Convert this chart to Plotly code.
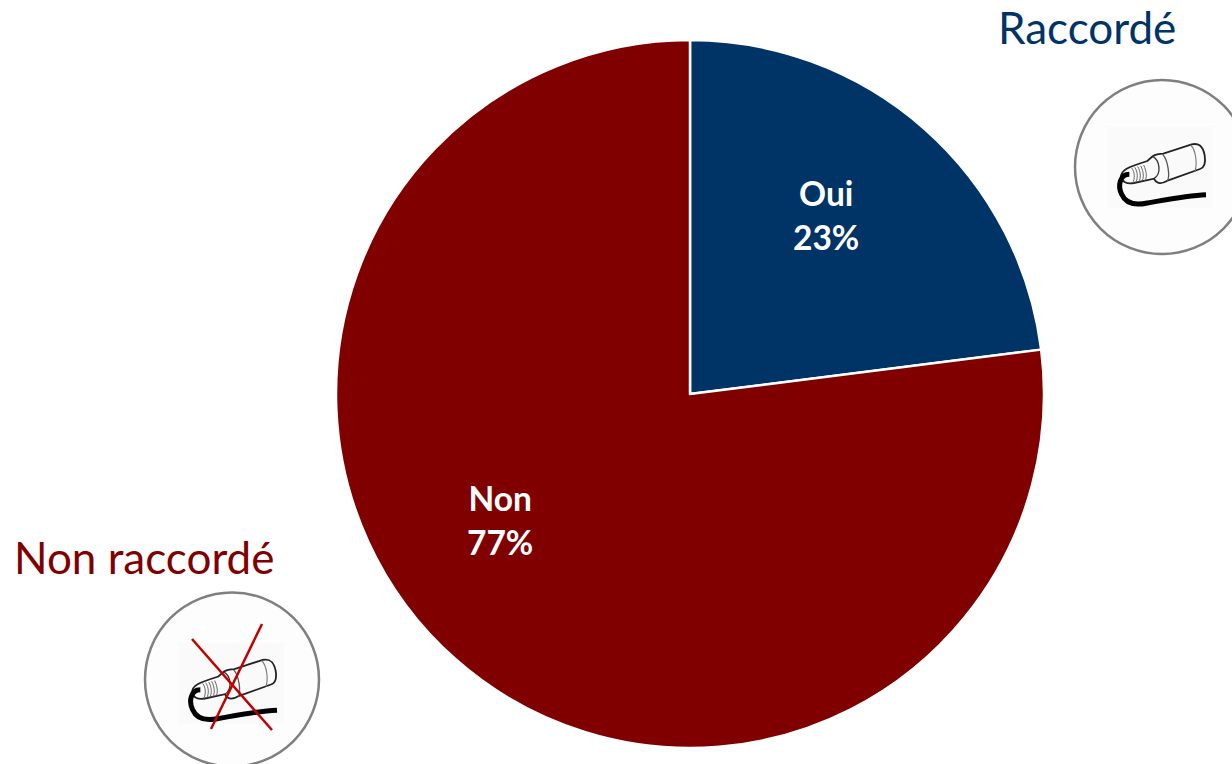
import plotly.graph_objects as go

W, H = 1232, 764
categories = ["Oui", "Non"]
values = [23, 77]
colors = ["#003366", "#800000"]
percent_labels = ["23%", "77%"]
callouts = ["Raccordé", "Non raccordé"]


def X(p):
    return p / W


def Y(p):
    return 1 - p / H


def path(cmds, cx, cy, k=1 / 3, ox=285, oy=290):
    """Turn an icon outline from local drawing units into paper coordinates."""
    out = []
    for c in cmds:
        if isinstance(c, str):
            out.append(c)
        else:
            out.append(f"{X(cx + (c[0] - ox) * k):.5f},{Y(cy + (c[1] - oy) * k):.5f}")
    return " ".join(out)


BODY = ["M", (183, 318), "C", (185, 298), (200, 292), (262, 272), "L", (278, 258),
        "C", (290, 250), (300, 250), (310, 250), "L", (395, 222),
        "C", (415, 218), (428, 225), (434, 255), "C", (438, 280), (432, 292), (420, 296),
        "L", (325, 330), "C", (305, 342), (290, 342), (282, 325), "L", (222, 338),
        "C", (200, 342), (185, 335), (183, 318)]
SEAM1 = ["M", (278, 258), "C", (300, 270), (305, 310), (282, 325)]
SEAM2 = ["M", (308, 252), "C", (325, 270), (330, 320), (322, 332)]
SEAM3 = ["M", (392, 224), "C", (408, 240), (412, 280), (405, 303)]
THREADS = [["M", (x, 293 - (x - 215) * 0.25), "C", (x + 10, 305), (x + 10, 325), (x + 3, 338 - (x - 215) * 0.2)]
           for x in (215, 224, 233, 242, 251)]
CABLE = ["M", (208, 312), "C", (180, 312), (172, 345), (185, 372),
         "C", (198, 402), (230, 405), (262, 398), "C", (320, 388), (380, 376), (438, 373)]


def icon(cx, cy, r, dx=0, dy=0, crossed=False):
    shapes = [dict(type="circle", xref="paper", yref="paper", x0=X(cx - r), x1=X(cx + r),
                   y0=Y(cy + r), y1=Y(cy - r), fillcolor="#fdfdfd",
                   line=dict(color="#7f7f7f", width=2.5)),
              dict(type="rect", xref="paper", yref="paper", x0=X(cx - 48 + dx), x1=X(cx + 58 + dx),
                   y0=Y(cy + 41 + dy), y1=Y(cy - 40 + dy), fillcolor="#fafafa",
                   line=dict(width=0))]
    ax, ay = cx + dx, cy + dy
    for cmds, w, col in [(BODY, 1.8, "#222222"), (SEAM1, 1.3, "#333333"), (SEAM2, 1.3, "#555555"),
                         (SEAM3, 1.1, "#777777")] + [(t, 1, "#666666") for t in THREADS] + [(CABLE, 5, "#000000")]:
        shapes.append(dict(type="path", xref="paper", yref="paper", path=path(cmds, ax, ay),
                           line=dict(color=col, width=w), fillcolor="rgba(0,0,0,0)"))
    if crossed:
        for a, b in [((192, 639), (272, 730)), ((262, 624), (211, 729))]:
            shapes.append(dict(type="line", xref="paper", yref="paper", x0=X(a[0]), y0=Y(a[1]),
                               x1=X(b[0]), y1=Y(b[1]), line=dict(color="#c00000", width=2.5)))
    return shapes


fig = go.Figure(go.Pie(
    labels=categories, values=values, sort=False, direction="clockwise", rotation=0,
    marker=dict(colors=colors, line=dict(color="#ffffff", width=2.5)),
    textinfo="none", hoverinfo="label+percent", showlegend=False,
    domain=dict(x=[X(336), X(1044)], y=[Y(748), Y(40)]),
))

annotations = []
for cat, pct, (px, py) in zip(categories, percent_labels, [(826, 215), (500, 520)]):
    annotations.append(dict(text=f"<b>{cat}<br>{pct}</b>", x=X(px), y=Y(py), xref="paper", yref="paper",
                            showarrow=False, align="center", xanchor="center", yanchor="middle",
                            font=dict(family="Lato", size=33.5, color="#ffffff")))
annotations.append(dict(text=callouts[0], x=X(1087), y=Y(27), xref="paper", yref="paper", showarrow=False,
                        xanchor="center", yanchor="middle", font=dict(family="Lato", size=44, color=colors[0])))
annotations.append(dict(text=callouts[1], x=X(144), y=Y(557), xref="paper", yref="paper", showarrow=False,
                        xanchor="center", yanchor="middle", font=dict(family="Lato", size=44, color=colors[1])))

fig.update_layout(
    width=W, height=H, margin=dict(l=0, r=0, t=0, b=0), paper_bgcolor="#ffffff",
    annotations=annotations,
    shapes=icon(1162, 167, 87, dx=-7) + icon(232, 679.5, 87, dx=-6, dy=3, crossed=True),
)
fig.write_html("out.html", post_script="document.body.style.margin='0';", config={"displayModeBar": False})
